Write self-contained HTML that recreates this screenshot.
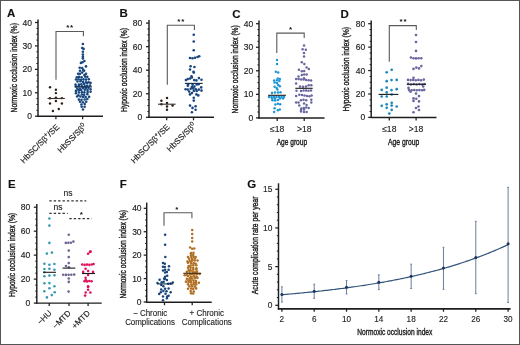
<!DOCTYPE html>
<html><head><meta charset="utf-8"><style>
html,body{margin:0;padding:0;background:#fff;}
.wrap{position:relative;width:520px;height:345px;overflow:hidden;background:#fff;}
svg{display:block;font-family:"Liberation Sans", sans-serif;filter:blur(0.3px);}
.bd{position:absolute;left:0;top:0;width:520px;height:345px;box-sizing:border-box;border:1px solid #555;}
</style></head><body>
<div class="wrap">
<svg width="520" height="345" viewBox="0 0 520 345">
<rect x="0" y="0" width="520" height="345" fill="#fff"/>
<text x="7.00" y="16.70" font-size="11.5" text-anchor="start" fill="#111" font-weight="bold" stroke="#1c1c1c" stroke-width="0.12">A</text>
<line x1="38.00" y1="19.60" x2="38.00" y2="116.90" stroke="#1e1e1e" stroke-width="1.45" />
<line x1="35.00" y1="116.20" x2="38.00" y2="116.20" stroke="#1e1e1e" stroke-width="1.25" />
<text x="31.90" y="119.25" font-size="8.5" text-anchor="end" fill="#1c1c1c" font-weight="normal" stroke="#1c1c1c" stroke-width="0.15">0</text>
<line x1="35.00" y1="92.78" x2="38.00" y2="92.78" stroke="#1e1e1e" stroke-width="1.25" />
<text x="31.90" y="95.83" font-size="8.5" text-anchor="end" fill="#1c1c1c" font-weight="normal" stroke="#1c1c1c" stroke-width="0.15">10</text>
<line x1="35.00" y1="69.35" x2="38.00" y2="69.35" stroke="#1e1e1e" stroke-width="1.25" />
<text x="31.90" y="72.40" font-size="8.5" text-anchor="end" fill="#1c1c1c" font-weight="normal" stroke="#1c1c1c" stroke-width="0.15">20</text>
<line x1="35.00" y1="45.92" x2="38.00" y2="45.92" stroke="#1e1e1e" stroke-width="1.25" />
<text x="31.90" y="48.97" font-size="8.5" text-anchor="end" fill="#1c1c1c" font-weight="normal" stroke="#1c1c1c" stroke-width="0.15">30</text>
<line x1="35.00" y1="22.50" x2="38.00" y2="22.50" stroke="#1e1e1e" stroke-width="1.25" />
<text x="31.90" y="25.55" font-size="8.5" text-anchor="end" fill="#1c1c1c" font-weight="normal" stroke="#1c1c1c" stroke-width="0.15">40</text>
<line x1="36.40" y1="110.34" x2="38.00" y2="110.34" stroke="#1e1e1e" stroke-width="1.0" />
<line x1="36.40" y1="104.49" x2="38.00" y2="104.49" stroke="#1e1e1e" stroke-width="1.0" />
<line x1="36.40" y1="98.63" x2="38.00" y2="98.63" stroke="#1e1e1e" stroke-width="1.0" />
<line x1="36.40" y1="86.92" x2="38.00" y2="86.92" stroke="#1e1e1e" stroke-width="1.0" />
<line x1="36.40" y1="81.06" x2="38.00" y2="81.06" stroke="#1e1e1e" stroke-width="1.0" />
<line x1="36.40" y1="75.21" x2="38.00" y2="75.21" stroke="#1e1e1e" stroke-width="1.0" />
<line x1="36.40" y1="63.49" x2="38.00" y2="63.49" stroke="#1e1e1e" stroke-width="1.0" />
<line x1="36.40" y1="57.64" x2="38.00" y2="57.64" stroke="#1e1e1e" stroke-width="1.0" />
<line x1="36.40" y1="51.78" x2="38.00" y2="51.78" stroke="#1e1e1e" stroke-width="1.0" />
<line x1="36.40" y1="40.07" x2="38.00" y2="40.07" stroke="#1e1e1e" stroke-width="1.0" />
<line x1="36.40" y1="34.21" x2="38.00" y2="34.21" stroke="#1e1e1e" stroke-width="1.0" />
<line x1="36.40" y1="28.36" x2="38.00" y2="28.36" stroke="#1e1e1e" stroke-width="1.0" />
<line x1="37.30" y1="116.20" x2="103.00" y2="116.20" stroke="#1e1e1e" stroke-width="1.45" />
<line x1="55.90" y1="116.20" x2="55.90" y2="119.20" stroke="#1e1e1e" stroke-width="1.25" />
<line x1="82.60" y1="116.20" x2="82.60" y2="119.20" stroke="#1e1e1e" stroke-width="1.25" />
<text transform="translate(16.70,112.50) rotate(-90)" x="0" y="0" font-size="9.0" fill="#1c1c1c" stroke="#1c1c1c" stroke-width="0.4" textLength="89.4" lengthAdjust="spacingAndGlyphs">Normoxic occlusion index (%)</text>
<path d="M56.00,79.80 V31.50 H83.40 V36.30" fill="none" stroke="#5a5a5a" stroke-width="1.1"/>
<text x="67.75" y="30.04" font-size="8.0" font-weight="bold" text-anchor="middle" fill="#111">*</text>
<text x="71.65" y="30.04" font-size="8.0" font-weight="bold" text-anchor="middle" fill="#111">*</text>
<circle cx="50.00" cy="87.25" r="1.2" fill="#2c1e16"/>
<circle cx="55.90" cy="89.75" r="1.2" fill="#2c1e16"/>
<circle cx="55.90" cy="93.10" r="1.2" fill="#2c1e16"/>
<circle cx="50.00" cy="98.30" r="1.2" fill="#2c1e16"/>
<circle cx="55.90" cy="97.60" r="1.2" fill="#2c1e16"/>
<circle cx="61.90" cy="98.10" r="1.2" fill="#2c1e16"/>
<circle cx="55.90" cy="101.00" r="1.2" fill="#2c1e16"/>
<circle cx="50.00" cy="103.50" r="1.2" fill="#2c1e16"/>
<circle cx="61.90" cy="103.50" r="1.2" fill="#2c1e16"/>
<circle cx="58.75" cy="109.00" r="1.2" fill="#2c1e16"/>
<circle cx="52.90" cy="111.00" r="1.2" fill="#2c1e16"/>
<line x1="47.50" y1="98.50" x2="64.80" y2="98.50" stroke="#3a3430" stroke-width="1.1" />
<circle cx="82.90" cy="44.00" r="1.3" fill="#18467e"/>
<circle cx="82.20" cy="48.00" r="1.3" fill="#18467e"/>
<circle cx="83.60" cy="48.90" r="1.3" fill="#18467e"/>
<circle cx="82.90" cy="51.80" r="1.3" fill="#18467e"/>
<circle cx="82.90" cy="54.60" r="1.3" fill="#18467e"/>
<circle cx="82.90" cy="56.70" r="1.3" fill="#18467e"/>
<circle cx="82.90" cy="58.40" r="1.3" fill="#18467e"/>
<circle cx="84.40" cy="61.00" r="1.3" fill="#18467e"/>
<circle cx="82.50" cy="62.20" r="1.3" fill="#18467e"/>
<circle cx="80.90" cy="62.90" r="1.3" fill="#18467e"/>
<circle cx="79.70" cy="67.70" r="1.3" fill="#18467e"/>
<circle cx="82.20" cy="68.00" r="1.3" fill="#18467e"/>
<circle cx="86.00" cy="66.40" r="1.3" fill="#18467e"/>
<circle cx="80.00" cy="70.80" r="1.3" fill="#18467e"/>
<circle cx="83.20" cy="69.90" r="1.3" fill="#18467e"/>
<circle cx="84.10" cy="70.80" r="1.3" fill="#18467e"/>
<circle cx="78.10" cy="73.70" r="1.3" fill="#18467e"/>
<circle cx="80.00" cy="73.70" r="1.3" fill="#18467e"/>
<circle cx="84.40" cy="75.00" r="1.3" fill="#18467e"/>
<circle cx="86.00" cy="73.70" r="1.3" fill="#18467e"/>
<circle cx="82.20" cy="72.60" r="1.3" fill="#18467e"/>
<circle cx="76.80" cy="77.20" r="1.3" fill="#18467e"/>
<circle cx="79.00" cy="76.90" r="1.3" fill="#18467e"/>
<circle cx="81.60" cy="77.20" r="1.3" fill="#18467e"/>
<circle cx="85.10" cy="76.60" r="1.3" fill="#18467e"/>
<circle cx="87.30" cy="76.90" r="1.3" fill="#18467e"/>
<circle cx="76.00" cy="79.50" r="1.3" fill="#18467e"/>
<circle cx="78.50" cy="79.20" r="1.3" fill="#18467e"/>
<circle cx="81.00" cy="79.80" r="1.3" fill="#18467e"/>
<circle cx="83.50" cy="79.40" r="1.3" fill="#18467e"/>
<circle cx="86.00" cy="79.60" r="1.3" fill="#18467e"/>
<circle cx="88.80" cy="79.20" r="1.3" fill="#18467e"/>
<circle cx="77.51" cy="81.56" r="1.3" fill="#18467e"/>
<circle cx="80.40" cy="81.26" r="1.3" fill="#18467e"/>
<circle cx="82.98" cy="82.11" r="1.3" fill="#18467e"/>
<circle cx="86.00" cy="82.29" r="1.3" fill="#18467e"/>
<circle cx="88.53" cy="82.19" r="1.3" fill="#18467e"/>
<circle cx="75.55" cy="84.66" r="1.3" fill="#18467e"/>
<circle cx="78.94" cy="84.67" r="1.3" fill="#18467e"/>
<circle cx="81.31" cy="84.35" r="1.3" fill="#18467e"/>
<circle cx="84.20" cy="83.88" r="1.3" fill="#18467e"/>
<circle cx="87.09" cy="83.11" r="1.3" fill="#18467e"/>
<circle cx="90.51" cy="82.92" r="1.3" fill="#18467e"/>
<circle cx="76.07" cy="86.51" r="1.3" fill="#18467e"/>
<circle cx="78.77" cy="86.13" r="1.3" fill="#18467e"/>
<circle cx="81.86" cy="86.33" r="1.3" fill="#18467e"/>
<circle cx="84.78" cy="86.32" r="1.3" fill="#18467e"/>
<circle cx="87.21" cy="85.80" r="1.3" fill="#18467e"/>
<circle cx="90.02" cy="85.51" r="1.3" fill="#18467e"/>
<circle cx="77.32" cy="88.74" r="1.3" fill="#18467e"/>
<circle cx="79.97" cy="88.73" r="1.3" fill="#18467e"/>
<circle cx="82.99" cy="88.04" r="1.3" fill="#18467e"/>
<circle cx="85.89" cy="87.96" r="1.3" fill="#18467e"/>
<circle cx="88.49" cy="87.81" r="1.3" fill="#18467e"/>
<circle cx="75.95" cy="90.92" r="1.3" fill="#18467e"/>
<circle cx="78.70" cy="90.34" r="1.3" fill="#18467e"/>
<circle cx="81.23" cy="90.12" r="1.3" fill="#18467e"/>
<circle cx="84.77" cy="89.80" r="1.3" fill="#18467e"/>
<circle cx="87.53" cy="89.98" r="1.3" fill="#18467e"/>
<circle cx="90.56" cy="89.23" r="1.3" fill="#18467e"/>
<circle cx="75.92" cy="93.32" r="1.3" fill="#18467e"/>
<circle cx="78.90" cy="92.51" r="1.3" fill="#18467e"/>
<circle cx="81.86" cy="92.28" r="1.3" fill="#18467e"/>
<circle cx="84.34" cy="92.37" r="1.3" fill="#18467e"/>
<circle cx="87.64" cy="91.90" r="1.3" fill="#18467e"/>
<circle cx="90.55" cy="91.78" r="1.3" fill="#18467e"/>
<circle cx="78.40" cy="95.22" r="1.3" fill="#18467e"/>
<circle cx="81.90" cy="94.55" r="1.3" fill="#18467e"/>
<circle cx="84.13" cy="94.84" r="1.3" fill="#18467e"/>
<circle cx="87.37" cy="94.14" r="1.3" fill="#18467e"/>
<circle cx="77.15" cy="96.56" r="1.3" fill="#18467e"/>
<circle cx="80.39" cy="96.51" r="1.3" fill="#18467e"/>
<circle cx="83.00" cy="97.04" r="1.3" fill="#18467e"/>
<circle cx="85.64" cy="96.94" r="1.3" fill="#18467e"/>
<circle cx="89.11" cy="96.84" r="1.3" fill="#18467e"/>
<circle cx="78.89" cy="99.58" r="1.3" fill="#18467e"/>
<circle cx="81.52" cy="99.83" r="1.3" fill="#18467e"/>
<circle cx="84.70" cy="99.57" r="1.3" fill="#18467e"/>
<circle cx="87.32" cy="98.99" r="1.3" fill="#18467e"/>
<circle cx="80.03" cy="101.77" r="1.3" fill="#18467e"/>
<circle cx="82.91" cy="102.21" r="1.3" fill="#18467e"/>
<circle cx="86.22" cy="101.82" r="1.3" fill="#18467e"/>
<circle cx="81.39" cy="104.56" r="1.3" fill="#18467e"/>
<circle cx="84.71" cy="103.98" r="1.3" fill="#18467e"/>
<circle cx="81.69" cy="106.79" r="1.3" fill="#18467e"/>
<circle cx="84.63" cy="106.77" r="1.3" fill="#18467e"/>
<circle cx="82.99" cy="109.46" r="1.3" fill="#18467e"/>
<line x1="74.50" y1="86.90" x2="92.00" y2="86.90" stroke="#102a48" stroke-width="1.1" />
<text transform="translate(59.80,127.60) rotate(-45)" x="0" y="0" font-size="8.2" fill="#1c1c1c" stroke="#1c1c1c" stroke-width="0.15" text-anchor="end">HbSC/S&#946;<tspan dy="-3" font-size="6">+</tspan><tspan dy="3">/SE</tspan></text>
<text transform="translate(87.00,127.00) rotate(-45)" x="0" y="0" font-size="8.2" fill="#1c1c1c" stroke="#1c1c1c" stroke-width="0.15" text-anchor="end">HbSS/S&#946;<tspan dy="-3" font-size="6">0</tspan></text>
<text x="119.60" y="16.80" font-size="11.5" text-anchor="start" fill="#111" font-weight="bold" stroke="#1c1c1c" stroke-width="0.12">B</text>
<line x1="149.00" y1="20.00" x2="149.00" y2="118.00" stroke="#1e1e1e" stroke-width="1.45" />
<line x1="146.00" y1="117.30" x2="149.00" y2="117.30" stroke="#1e1e1e" stroke-width="1.25" />
<text x="142.30" y="120.35" font-size="8.5" text-anchor="end" fill="#1c1c1c" font-weight="normal" stroke="#1c1c1c" stroke-width="0.15">0</text>
<line x1="146.00" y1="93.75" x2="149.00" y2="93.75" stroke="#1e1e1e" stroke-width="1.25" />
<text x="142.30" y="96.80" font-size="8.5" text-anchor="end" fill="#1c1c1c" font-weight="normal" stroke="#1c1c1c" stroke-width="0.15">20</text>
<line x1="146.00" y1="70.20" x2="149.00" y2="70.20" stroke="#1e1e1e" stroke-width="1.25" />
<text x="142.30" y="73.25" font-size="8.5" text-anchor="end" fill="#1c1c1c" font-weight="normal" stroke="#1c1c1c" stroke-width="0.15">40</text>
<line x1="146.00" y1="46.65" x2="149.00" y2="46.65" stroke="#1e1e1e" stroke-width="1.25" />
<text x="142.30" y="49.70" font-size="8.5" text-anchor="end" fill="#1c1c1c" font-weight="normal" stroke="#1c1c1c" stroke-width="0.15">60</text>
<line x1="146.00" y1="23.10" x2="149.00" y2="23.10" stroke="#1e1e1e" stroke-width="1.25" />
<text x="142.30" y="26.15" font-size="8.5" text-anchor="end" fill="#1c1c1c" font-weight="normal" stroke="#1c1c1c" stroke-width="0.15">80</text>
<line x1="147.40" y1="111.41" x2="149.00" y2="111.41" stroke="#1e1e1e" stroke-width="1.0" />
<line x1="147.40" y1="105.53" x2="149.00" y2="105.53" stroke="#1e1e1e" stroke-width="1.0" />
<line x1="147.40" y1="99.64" x2="149.00" y2="99.64" stroke="#1e1e1e" stroke-width="1.0" />
<line x1="147.40" y1="87.86" x2="149.00" y2="87.86" stroke="#1e1e1e" stroke-width="1.0" />
<line x1="147.40" y1="81.97" x2="149.00" y2="81.97" stroke="#1e1e1e" stroke-width="1.0" />
<line x1="147.40" y1="76.09" x2="149.00" y2="76.09" stroke="#1e1e1e" stroke-width="1.0" />
<line x1="147.40" y1="64.31" x2="149.00" y2="64.31" stroke="#1e1e1e" stroke-width="1.0" />
<line x1="147.40" y1="58.43" x2="149.00" y2="58.43" stroke="#1e1e1e" stroke-width="1.0" />
<line x1="147.40" y1="52.54" x2="149.00" y2="52.54" stroke="#1e1e1e" stroke-width="1.0" />
<line x1="147.40" y1="40.76" x2="149.00" y2="40.76" stroke="#1e1e1e" stroke-width="1.0" />
<line x1="147.40" y1="34.88" x2="149.00" y2="34.88" stroke="#1e1e1e" stroke-width="1.0" />
<line x1="147.40" y1="28.99" x2="149.00" y2="28.99" stroke="#1e1e1e" stroke-width="1.0" />
<line x1="148.30" y1="117.30" x2="214.00" y2="117.30" stroke="#1e1e1e" stroke-width="1.45" />
<line x1="166.70" y1="117.30" x2="166.70" y2="120.30" stroke="#1e1e1e" stroke-width="1.25" />
<line x1="193.50" y1="117.30" x2="193.50" y2="120.30" stroke="#1e1e1e" stroke-width="1.25" />
<text transform="translate(126.80,111.90) rotate(-90)" x="0" y="0" font-size="9.0" fill="#1c1c1c" stroke="#1c1c1c" stroke-width="0.4" textLength="83.8" lengthAdjust="spacingAndGlyphs">Hypoxic occlusion index (%)</text>
<path d="M167.30,84.80 V25.30 H194.40 V30.00" fill="none" stroke="#5a5a5a" stroke-width="1.1"/>
<text x="178.90" y="23.64" font-size="8.0" font-weight="bold" text-anchor="middle" fill="#111">*</text>
<text x="182.80" y="23.64" font-size="8.0" font-weight="bold" text-anchor="middle" fill="#111">*</text>
<circle cx="167.00" cy="98.10" r="1.25" fill="#2c1e16"/>
<circle cx="161.40" cy="100.70" r="1.25" fill="#2c1e16"/>
<circle cx="167.00" cy="103.00" r="1.25" fill="#2c1e16"/>
<circle cx="161.40" cy="104.30" r="1.25" fill="#2c1e16"/>
<circle cx="172.60" cy="105.60" r="1.25" fill="#2c1e16"/>
<circle cx="167.00" cy="106.60" r="1.25" fill="#2c1e16"/>
<circle cx="167.00" cy="109.70" r="1.25" fill="#2c1e16"/>
<line x1="158.00" y1="104.20" x2="175.60" y2="104.20" stroke="#3a3430" stroke-width="1.1" />
<circle cx="193.75" cy="34.75" r="1.3" fill="#18467e"/>
<circle cx="193.75" cy="41.50" r="1.3" fill="#18467e"/>
<circle cx="193.75" cy="50.25" r="1.3" fill="#18467e"/>
<circle cx="190.00" cy="58.00" r="1.3" fill="#18467e"/>
<circle cx="192.50" cy="58.20" r="1.3" fill="#18467e"/>
<circle cx="195.00" cy="57.80" r="1.3" fill="#18467e"/>
<circle cx="197.50" cy="57.00" r="1.3" fill="#18467e"/>
<circle cx="199.20" cy="56.20" r="1.3" fill="#18467e"/>
<circle cx="190.60" cy="66.30" r="1.3" fill="#18467e"/>
<circle cx="194.40" cy="67.00" r="1.3" fill="#18467e"/>
<circle cx="190.00" cy="69.50" r="1.3" fill="#18467e"/>
<circle cx="193.50" cy="71.80" r="1.3" fill="#18467e"/>
<circle cx="193.80" cy="72.60" r="1.3" fill="#18467e"/>
<circle cx="193.75" cy="97.80" r="1.3" fill="#18467e"/>
<circle cx="193.75" cy="100.60" r="1.3" fill="#18467e"/>
<circle cx="190.00" cy="105.60" r="1.3" fill="#18467e"/>
<circle cx="195.60" cy="106.25" r="1.3" fill="#18467e"/>
<circle cx="192.50" cy="107.90" r="1.3" fill="#18467e"/>
<circle cx="195.60" cy="109.75" r="1.3" fill="#18467e"/>
<circle cx="191.90" cy="112.25" r="1.3" fill="#18467e"/>
<circle cx="185.90" cy="80.10" r="1.3" fill="#18467e"/>
<circle cx="187.80" cy="79.10" r="1.3" fill="#18467e"/>
<circle cx="190.00" cy="78.50" r="1.3" fill="#18467e"/>
<circle cx="191.90" cy="77.50" r="1.3" fill="#18467e"/>
<circle cx="194.20" cy="80.10" r="1.3" fill="#18467e"/>
<circle cx="196.40" cy="80.40" r="1.3" fill="#18467e"/>
<circle cx="198.90" cy="78.10" r="1.3" fill="#18467e"/>
<circle cx="201.50" cy="79.70" r="1.3" fill="#18467e"/>
<circle cx="188.10" cy="84.50" r="1.3" fill="#18467e"/>
<circle cx="192.60" cy="84.80" r="1.3" fill="#18467e"/>
<circle cx="196.70" cy="84.50" r="1.3" fill="#18467e"/>
<circle cx="198.60" cy="84.20" r="1.3" fill="#18467e"/>
<circle cx="187.80" cy="85.80" r="1.3" fill="#18467e"/>
<circle cx="191.90" cy="87.10" r="1.3" fill="#18467e"/>
<circle cx="201.20" cy="87.40" r="1.3" fill="#18467e"/>
<circle cx="194.40" cy="86.60" r="1.3" fill="#18467e"/>
<circle cx="185.60" cy="89.30" r="1.3" fill="#18467e"/>
<circle cx="187.80" cy="89.60" r="1.3" fill="#18467e"/>
<circle cx="190.70" cy="88.70" r="1.3" fill="#18467e"/>
<circle cx="193.20" cy="88.40" r="1.3" fill="#18467e"/>
<circle cx="195.80" cy="89.30" r="1.3" fill="#18467e"/>
<circle cx="198.90" cy="89.60" r="1.3" fill="#18467e"/>
<circle cx="201.50" cy="90.60" r="1.3" fill="#18467e"/>
<circle cx="193.80" cy="90.90" r="1.3" fill="#18467e"/>
<circle cx="196.70" cy="90.90" r="1.3" fill="#18467e"/>
<circle cx="189.20" cy="91.60" r="1.3" fill="#18467e"/>
<circle cx="190.00" cy="94.40" r="1.3" fill="#18467e"/>
<circle cx="191.90" cy="93.10" r="1.3" fill="#18467e"/>
<circle cx="196.40" cy="94.40" r="1.3" fill="#18467e"/>
<circle cx="198.30" cy="95.40" r="1.3" fill="#18467e"/>
<circle cx="191.50" cy="76.40" r="1.3" fill="#18467e"/>
<line x1="184.90" y1="83.40" x2="202.70" y2="83.40" stroke="#102a48" stroke-width="1.1" />
<text transform="translate(170.20,127.60) rotate(-45)" x="0" y="0" font-size="8.2" fill="#1c1c1c" stroke="#1c1c1c" stroke-width="0.15" text-anchor="end">HbSC/S&#946;<tspan dy="-3" font-size="6">+</tspan><tspan dy="3">/SE</tspan></text>
<text transform="translate(196.40,126.00) rotate(-45)" x="0" y="0" font-size="8.2" fill="#1c1c1c" stroke="#1c1c1c" stroke-width="0.15" text-anchor="end">HbSS/S&#946;<tspan dy="-3" font-size="6">0</tspan></text>
<text x="232.30" y="18.20" font-size="11.5" text-anchor="start" fill="#111" font-weight="bold" stroke="#1c1c1c" stroke-width="0.12">C</text>
<line x1="259.00" y1="20.60" x2="259.00" y2="118.60" stroke="#1e1e1e" stroke-width="1.45" />
<line x1="256.00" y1="117.90" x2="259.00" y2="117.90" stroke="#1e1e1e" stroke-width="1.25" />
<text x="253.20" y="120.95" font-size="8.5" text-anchor="end" fill="#1c1c1c" font-weight="normal" stroke="#1c1c1c" stroke-width="0.15">0</text>
<line x1="256.00" y1="94.35" x2="259.00" y2="94.35" stroke="#1e1e1e" stroke-width="1.25" />
<text x="253.20" y="97.40" font-size="8.5" text-anchor="end" fill="#1c1c1c" font-weight="normal" stroke="#1c1c1c" stroke-width="0.15">10</text>
<line x1="256.00" y1="70.80" x2="259.00" y2="70.80" stroke="#1e1e1e" stroke-width="1.25" />
<text x="253.20" y="73.85" font-size="8.5" text-anchor="end" fill="#1c1c1c" font-weight="normal" stroke="#1c1c1c" stroke-width="0.15">20</text>
<line x1="256.00" y1="47.25" x2="259.00" y2="47.25" stroke="#1e1e1e" stroke-width="1.25" />
<text x="253.20" y="50.30" font-size="8.5" text-anchor="end" fill="#1c1c1c" font-weight="normal" stroke="#1c1c1c" stroke-width="0.15">30</text>
<line x1="256.00" y1="23.70" x2="259.00" y2="23.70" stroke="#1e1e1e" stroke-width="1.25" />
<text x="253.20" y="26.75" font-size="8.5" text-anchor="end" fill="#1c1c1c" font-weight="normal" stroke="#1c1c1c" stroke-width="0.15">40</text>
<line x1="257.40" y1="112.01" x2="259.00" y2="112.01" stroke="#1e1e1e" stroke-width="1.0" />
<line x1="257.40" y1="106.12" x2="259.00" y2="106.12" stroke="#1e1e1e" stroke-width="1.0" />
<line x1="257.40" y1="100.24" x2="259.00" y2="100.24" stroke="#1e1e1e" stroke-width="1.0" />
<line x1="257.40" y1="88.46" x2="259.00" y2="88.46" stroke="#1e1e1e" stroke-width="1.0" />
<line x1="257.40" y1="82.58" x2="259.00" y2="82.58" stroke="#1e1e1e" stroke-width="1.0" />
<line x1="257.40" y1="76.69" x2="259.00" y2="76.69" stroke="#1e1e1e" stroke-width="1.0" />
<line x1="257.40" y1="64.91" x2="259.00" y2="64.91" stroke="#1e1e1e" stroke-width="1.0" />
<line x1="257.40" y1="59.03" x2="259.00" y2="59.03" stroke="#1e1e1e" stroke-width="1.0" />
<line x1="257.40" y1="53.14" x2="259.00" y2="53.14" stroke="#1e1e1e" stroke-width="1.0" />
<line x1="257.40" y1="41.36" x2="259.00" y2="41.36" stroke="#1e1e1e" stroke-width="1.0" />
<line x1="257.40" y1="35.48" x2="259.00" y2="35.48" stroke="#1e1e1e" stroke-width="1.0" />
<line x1="257.40" y1="29.59" x2="259.00" y2="29.59" stroke="#1e1e1e" stroke-width="1.0" />
<line x1="258.30" y1="117.90" x2="324.50" y2="117.90" stroke="#1e1e1e" stroke-width="1.45" />
<line x1="277.20" y1="117.90" x2="277.20" y2="120.90" stroke="#1e1e1e" stroke-width="1.25" />
<line x1="304.20" y1="117.90" x2="304.20" y2="120.90" stroke="#1e1e1e" stroke-width="1.25" />
<text transform="translate(238.30,113.40) rotate(-90)" x="0" y="0" font-size="9.0" fill="#1c1c1c" stroke="#1c1c1c" stroke-width="0.4" textLength="88.2" lengthAdjust="spacingAndGlyphs">Normoxic occlusion index (%)</text>
<path d="M276.80,52.90 V33.10 H304.20 V38.00" fill="none" stroke="#5a5a5a" stroke-width="1.1"/>
<text x="290.60" y="31.54" font-size="8.0" font-weight="bold" text-anchor="middle" fill="#111">*</text>
<circle cx="277.00" cy="59.90" r="1.25" fill="#1e96d6"/>
<circle cx="277.00" cy="64.00" r="1.25" fill="#1e96d6"/>
<circle cx="275.80" cy="71.70" r="1.25" fill="#1e96d6"/>
<circle cx="278.20" cy="72.50" r="1.25" fill="#1e96d6"/>
<circle cx="277.80" cy="78.40" r="1.25" fill="#1e96d6"/>
<circle cx="279.80" cy="79.00" r="1.25" fill="#1e96d6"/>
<circle cx="274.10" cy="80.60" r="1.25" fill="#1e96d6"/>
<circle cx="277.00" cy="80.20" r="1.25" fill="#1e96d6"/>
<circle cx="279.40" cy="81.00" r="1.25" fill="#1e96d6"/>
<circle cx="274.60" cy="82.60" r="1.25" fill="#1e96d6"/>
<circle cx="277.00" cy="83.00" r="1.25" fill="#1e96d6"/>
<circle cx="278.20" cy="85.00" r="1.25" fill="#1e96d6"/>
<circle cx="279.80" cy="86.30" r="1.25" fill="#1e96d6"/>
<circle cx="274.60" cy="86.70" r="1.25" fill="#1e96d6"/>
<circle cx="276.60" cy="87.90" r="1.25" fill="#1e96d6"/>
<circle cx="277.40" cy="89.50" r="1.25" fill="#1e96d6"/>
<circle cx="272.00" cy="93.00" r="1.25" fill="#1e96d6"/>
<circle cx="275.00" cy="92.50" r="1.25" fill="#1e96d6"/>
<circle cx="278.00" cy="92.50" r="1.25" fill="#1e96d6"/>
<circle cx="280.50" cy="92.20" r="1.25" fill="#1e96d6"/>
<circle cx="269.00" cy="96.90" r="1.25" fill="#1e96d6"/>
<circle cx="271.50" cy="96.90" r="1.25" fill="#1e96d6"/>
<circle cx="274.00" cy="96.90" r="1.25" fill="#1e96d6"/>
<circle cx="276.50" cy="96.90" r="1.25" fill="#1e96d6"/>
<circle cx="279.00" cy="96.90" r="1.25" fill="#1e96d6"/>
<circle cx="281.50" cy="96.90" r="1.25" fill="#1e96d6"/>
<circle cx="284.00" cy="96.90" r="1.25" fill="#1e96d6"/>
<circle cx="272.00" cy="98.60" r="1.25" fill="#1e96d6"/>
<circle cx="275.00" cy="98.80" r="1.25" fill="#1e96d6"/>
<circle cx="280.00" cy="98.60" r="1.25" fill="#1e96d6"/>
<circle cx="283.00" cy="98.40" r="1.25" fill="#1e96d6"/>
<circle cx="272.50" cy="100.30" r="1.25" fill="#1e96d6"/>
<circle cx="275.20" cy="100.50" r="1.25" fill="#1e96d6"/>
<circle cx="278.00" cy="100.10" r="1.25" fill="#1e96d6"/>
<circle cx="275.40" cy="104.60" r="1.25" fill="#1e96d6"/>
<circle cx="277.80" cy="103.80" r="1.25" fill="#1e96d6"/>
<circle cx="280.20" cy="104.20" r="1.25" fill="#1e96d6"/>
<circle cx="274.60" cy="108.30" r="1.25" fill="#1e96d6"/>
<circle cx="277.80" cy="110.30" r="1.25" fill="#1e96d6"/>
<circle cx="279.80" cy="109.50" r="1.25" fill="#1e96d6"/>
<circle cx="274.10" cy="111.90" r="1.25" fill="#1e96d6"/>
<line x1="268.10" y1="95.30" x2="285.90" y2="95.30" stroke="#1a1a1a" stroke-width="1.1" />
<circle cx="304.00" cy="45.50" r="1.25" fill="#6a66a0"/>
<circle cx="302.60" cy="49.30" r="1.25" fill="#6a66a0"/>
<circle cx="305.80" cy="49.70" r="1.25" fill="#6a66a0"/>
<circle cx="304.00" cy="53.00" r="1.25" fill="#6a66a0"/>
<circle cx="304.00" cy="56.60" r="1.25" fill="#6a66a0"/>
<circle cx="301.80" cy="62.30" r="1.25" fill="#6a66a0"/>
<circle cx="304.40" cy="63.90" r="1.25" fill="#6a66a0"/>
<circle cx="306.60" cy="67.50" r="1.25" fill="#6a66a0"/>
<circle cx="308.80" cy="68.90" r="1.25" fill="#6a66a0"/>
<circle cx="298.90" cy="69.70" r="1.25" fill="#6a66a0"/>
<circle cx="301.80" cy="71.30" r="1.25" fill="#6a66a0"/>
<circle cx="304.20" cy="70.90" r="1.25" fill="#6a66a0"/>
<circle cx="301.80" cy="75.00" r="1.25" fill="#6a66a0"/>
<circle cx="304.20" cy="74.60" r="1.25" fill="#6a66a0"/>
<circle cx="306.60" cy="74.60" r="1.25" fill="#6a66a0"/>
<circle cx="298.50" cy="76.60" r="1.25" fill="#6a66a0"/>
<circle cx="304.00" cy="78.20" r="1.25" fill="#6a66a0"/>
<circle cx="296.10" cy="78.90" r="1.25" fill="#6a66a0"/>
<circle cx="298.60" cy="79.10" r="1.25" fill="#6a66a0"/>
<circle cx="301.10" cy="79.40" r="1.25" fill="#6a66a0"/>
<circle cx="303.60" cy="79.60" r="1.25" fill="#6a66a0"/>
<circle cx="306.10" cy="79.90" r="1.25" fill="#6a66a0"/>
<circle cx="308.60" cy="80.20" r="1.25" fill="#6a66a0"/>
<circle cx="311.10" cy="80.50" r="1.25" fill="#6a66a0"/>
<circle cx="296.10" cy="83.50" r="1.25" fill="#6a66a0"/>
<circle cx="308.70" cy="85.30" r="1.25" fill="#6a66a0"/>
<circle cx="311.30" cy="85.30" r="1.25" fill="#6a66a0"/>
<circle cx="300.00" cy="86.50" r="1.25" fill="#6a66a0"/>
<circle cx="303.00" cy="86.80" r="1.25" fill="#6a66a0"/>
<circle cx="306.00" cy="86.60" r="1.25" fill="#6a66a0"/>
<circle cx="296.50" cy="90.80" r="1.25" fill="#6a66a0"/>
<circle cx="301.00" cy="91.00" r="1.25" fill="#6a66a0"/>
<circle cx="303.50" cy="90.60" r="1.25" fill="#6a66a0"/>
<circle cx="306.00" cy="90.40" r="1.25" fill="#6a66a0"/>
<circle cx="308.50" cy="90.80" r="1.25" fill="#6a66a0"/>
<circle cx="311.00" cy="90.40" r="1.25" fill="#6a66a0"/>
<circle cx="296.10" cy="96.00" r="1.25" fill="#6a66a0"/>
<circle cx="299.30" cy="94.70" r="1.25" fill="#6a66a0"/>
<circle cx="302.00" cy="95.10" r="1.25" fill="#6a66a0"/>
<circle cx="304.50" cy="95.50" r="1.25" fill="#6a66a0"/>
<circle cx="307.00" cy="95.90" r="1.25" fill="#6a66a0"/>
<circle cx="309.50" cy="96.30" r="1.25" fill="#6a66a0"/>
<circle cx="311.60" cy="95.50" r="1.25" fill="#6a66a0"/>
<circle cx="301.00" cy="100.20" r="1.25" fill="#6a66a0"/>
<circle cx="303.50" cy="99.80" r="1.25" fill="#6a66a0"/>
<circle cx="306.20" cy="100.20" r="1.25" fill="#6a66a0"/>
<circle cx="311.30" cy="99.80" r="1.25" fill="#6a66a0"/>
<circle cx="296.10" cy="102.60" r="1.25" fill="#6a66a0"/>
<circle cx="298.50" cy="102.60" r="1.25" fill="#6a66a0"/>
<circle cx="304.00" cy="103.40" r="1.25" fill="#6a66a0"/>
<circle cx="311.30" cy="102.60" r="1.25" fill="#6a66a0"/>
<circle cx="299.30" cy="105.50" r="1.25" fill="#6a66a0"/>
<circle cx="306.60" cy="105.00" r="1.25" fill="#6a66a0"/>
<circle cx="301.40" cy="108.50" r="1.25" fill="#6a66a0"/>
<circle cx="303.80" cy="108.00" r="1.25" fill="#6a66a0"/>
<circle cx="306.20" cy="107.50" r="1.25" fill="#6a66a0"/>
<circle cx="308.70" cy="107.90" r="1.25" fill="#6a66a0"/>
<circle cx="301.00" cy="109.90" r="1.25" fill="#6a66a0"/>
<circle cx="304.00" cy="109.50" r="1.25" fill="#6a66a0"/>
<circle cx="301.00" cy="111.60" r="1.25" fill="#6a66a0"/>
<circle cx="304.00" cy="111.90" r="1.25" fill="#6a66a0"/>
<circle cx="306.60" cy="111.90" r="1.25" fill="#6a66a0"/>
<line x1="295.30" y1="88.30" x2="312.70" y2="88.30" stroke="#1a1a1a" stroke-width="1.1" />
<text x="277.20" y="131.60" font-size="8.6" text-anchor="middle" fill="#1c1c1c" font-weight="normal" stroke="#1c1c1c" stroke-width="0.12">&#8804;18</text>
<text x="304.20" y="131.60" font-size="8.6" text-anchor="middle" fill="#1c1c1c" font-weight="normal" stroke="#1c1c1c" stroke-width="0.12">&gt;18</text>
<text x="291.90" y="144.70" font-size="9.8" text-anchor="middle" fill="#1c1c1c" font-weight="normal" textLength="30.4" lengthAdjust="spacingAndGlyphs" stroke="#1c1c1c" stroke-width="0.4">Age group</text>
<text x="340.50" y="18.10" font-size="11.5" text-anchor="start" fill="#111" font-weight="bold" stroke="#1c1c1c" stroke-width="0.12">D</text>
<line x1="371.20" y1="20.60" x2="371.20" y2="118.10" stroke="#1e1e1e" stroke-width="1.45" />
<line x1="368.20" y1="117.40" x2="371.20" y2="117.40" stroke="#1e1e1e" stroke-width="1.25" />
<text x="365.20" y="120.45" font-size="8.5" text-anchor="end" fill="#1c1c1c" font-weight="normal" stroke="#1c1c1c" stroke-width="0.15">0</text>
<line x1="368.20" y1="93.98" x2="371.20" y2="93.98" stroke="#1e1e1e" stroke-width="1.25" />
<text x="365.20" y="97.03" font-size="8.5" text-anchor="end" fill="#1c1c1c" font-weight="normal" stroke="#1c1c1c" stroke-width="0.15">20</text>
<line x1="368.20" y1="70.55" x2="371.20" y2="70.55" stroke="#1e1e1e" stroke-width="1.25" />
<text x="365.20" y="73.60" font-size="8.5" text-anchor="end" fill="#1c1c1c" font-weight="normal" stroke="#1c1c1c" stroke-width="0.15">40</text>
<line x1="368.20" y1="47.12" x2="371.20" y2="47.12" stroke="#1e1e1e" stroke-width="1.25" />
<text x="365.20" y="50.17" font-size="8.5" text-anchor="end" fill="#1c1c1c" font-weight="normal" stroke="#1c1c1c" stroke-width="0.15">60</text>
<line x1="368.20" y1="23.70" x2="371.20" y2="23.70" stroke="#1e1e1e" stroke-width="1.25" />
<text x="365.20" y="26.75" font-size="8.5" text-anchor="end" fill="#1c1c1c" font-weight="normal" stroke="#1c1c1c" stroke-width="0.15">80</text>
<line x1="369.60" y1="111.54" x2="371.20" y2="111.54" stroke="#1e1e1e" stroke-width="1.0" />
<line x1="369.60" y1="105.69" x2="371.20" y2="105.69" stroke="#1e1e1e" stroke-width="1.0" />
<line x1="369.60" y1="99.83" x2="371.20" y2="99.83" stroke="#1e1e1e" stroke-width="1.0" />
<line x1="369.60" y1="88.12" x2="371.20" y2="88.12" stroke="#1e1e1e" stroke-width="1.0" />
<line x1="369.60" y1="82.26" x2="371.20" y2="82.26" stroke="#1e1e1e" stroke-width="1.0" />
<line x1="369.60" y1="76.41" x2="371.20" y2="76.41" stroke="#1e1e1e" stroke-width="1.0" />
<line x1="369.60" y1="64.69" x2="371.20" y2="64.69" stroke="#1e1e1e" stroke-width="1.0" />
<line x1="369.60" y1="58.84" x2="371.20" y2="58.84" stroke="#1e1e1e" stroke-width="1.0" />
<line x1="369.60" y1="52.98" x2="371.20" y2="52.98" stroke="#1e1e1e" stroke-width="1.0" />
<line x1="369.60" y1="41.27" x2="371.20" y2="41.27" stroke="#1e1e1e" stroke-width="1.0" />
<line x1="369.60" y1="35.41" x2="371.20" y2="35.41" stroke="#1e1e1e" stroke-width="1.0" />
<line x1="369.60" y1="29.56" x2="371.20" y2="29.56" stroke="#1e1e1e" stroke-width="1.0" />
<line x1="370.50" y1="117.40" x2="436.50" y2="117.40" stroke="#1e1e1e" stroke-width="1.45" />
<line x1="389.30" y1="117.40" x2="389.30" y2="120.40" stroke="#1e1e1e" stroke-width="1.25" />
<line x1="416.10" y1="117.40" x2="416.10" y2="120.40" stroke="#1e1e1e" stroke-width="1.25" />
<text transform="translate(349.30,111.40) rotate(-90)" x="0" y="0" font-size="9.0" fill="#1c1c1c" stroke="#1c1c1c" stroke-width="0.4" textLength="84.4" lengthAdjust="spacingAndGlyphs">Hypoxic occlusion index (%)</text>
<path d="M389.30,61.70 V25.60 H416.30 V30.00" fill="none" stroke="#5a5a5a" stroke-width="1.1"/>
<text x="401.05" y="24.04" font-size="8.0" font-weight="bold" text-anchor="middle" fill="#111">*</text>
<text x="404.95" y="24.04" font-size="8.0" font-weight="bold" text-anchor="middle" fill="#111">*</text>
<circle cx="391.70" cy="69.80" r="1.35" fill="#1f88b8"/>
<circle cx="386.70" cy="72.30" r="1.35" fill="#1f88b8"/>
<circle cx="386.70" cy="81.20" r="1.35" fill="#1f88b8"/>
<circle cx="391.50" cy="80.10" r="1.35" fill="#1f88b8"/>
<circle cx="396.70" cy="79.90" r="1.35" fill="#1f88b8"/>
<circle cx="386.70" cy="87.70" r="1.35" fill="#1f88b8"/>
<circle cx="381.70" cy="89.90" r="1.35" fill="#1f88b8"/>
<circle cx="391.50" cy="90.10" r="1.35" fill="#1f88b8"/>
<circle cx="396.70" cy="89.20" r="1.35" fill="#1f88b8"/>
<circle cx="386.70" cy="92.40" r="1.35" fill="#1f88b8"/>
<circle cx="381.70" cy="96.50" r="1.35" fill="#1f88b8"/>
<circle cx="386.70" cy="96.50" r="1.35" fill="#1f88b8"/>
<circle cx="391.70" cy="94.50" r="1.35" fill="#1f88b8"/>
<circle cx="391.70" cy="102.80" r="1.35" fill="#1f88b8"/>
<circle cx="386.70" cy="104.30" r="1.35" fill="#1f88b8"/>
<circle cx="381.70" cy="105.80" r="1.35" fill="#1f88b8"/>
<circle cx="391.70" cy="105.60" r="1.35" fill="#1f88b8"/>
<circle cx="396.70" cy="106.50" r="1.35" fill="#1f88b8"/>
<circle cx="386.70" cy="107.80" r="1.35" fill="#1f88b8"/>
<circle cx="391.70" cy="109.90" r="1.35" fill="#1f88b8"/>
<circle cx="389.30" cy="113.60" r="1.35" fill="#1f88b8"/>
<line x1="378.60" y1="94.40" x2="398.40" y2="94.40" stroke="#1a1a1a" stroke-width="1.1" />
<circle cx="416.00" cy="35.00" r="1.3" fill="#6a66a0"/>
<circle cx="416.00" cy="42.00" r="1.3" fill="#6a66a0"/>
<circle cx="416.00" cy="50.90" r="1.3" fill="#6a66a0"/>
<circle cx="410.90" cy="57.50" r="1.3" fill="#6a66a0"/>
<circle cx="413.50" cy="58.30" r="1.3" fill="#6a66a0"/>
<circle cx="416.00" cy="58.40" r="1.3" fill="#6a66a0"/>
<circle cx="418.60" cy="58.30" r="1.3" fill="#6a66a0"/>
<circle cx="421.30" cy="58.20" r="1.3" fill="#6a66a0"/>
<circle cx="413.50" cy="68.90" r="1.3" fill="#6a66a0"/>
<circle cx="416.30" cy="67.60" r="1.3" fill="#6a66a0"/>
<circle cx="419.00" cy="68.40" r="1.3" fill="#6a66a0"/>
<circle cx="421.30" cy="66.10" r="1.3" fill="#6a66a0"/>
<circle cx="413.50" cy="77.80" r="1.3" fill="#6a66a0"/>
<circle cx="408.00" cy="79.90" r="1.3" fill="#6a66a0"/>
<circle cx="410.60" cy="80.10" r="1.3" fill="#6a66a0"/>
<circle cx="413.20" cy="79.90" r="1.3" fill="#6a66a0"/>
<circle cx="415.80" cy="80.20" r="1.3" fill="#6a66a0"/>
<circle cx="418.40" cy="79.90" r="1.3" fill="#6a66a0"/>
<circle cx="421.00" cy="80.20" r="1.3" fill="#6a66a0"/>
<circle cx="423.80" cy="79.60" r="1.3" fill="#6a66a0"/>
<circle cx="408.20" cy="83.90" r="1.3" fill="#6a66a0"/>
<circle cx="411.00" cy="84.50" r="1.3" fill="#6a66a0"/>
<circle cx="413.80" cy="84.10" r="1.3" fill="#6a66a0"/>
<circle cx="416.60" cy="84.50" r="1.3" fill="#6a66a0"/>
<circle cx="419.40" cy="84.10" r="1.3" fill="#6a66a0"/>
<circle cx="422.20" cy="84.60" r="1.3" fill="#6a66a0"/>
<circle cx="424.50" cy="84.00" r="1.3" fill="#6a66a0"/>
<circle cx="408.50" cy="87.90" r="1.3" fill="#6a66a0"/>
<circle cx="423.20" cy="86.50" r="1.3" fill="#6a66a0"/>
<circle cx="409.00" cy="90.10" r="1.3" fill="#6a66a0"/>
<circle cx="411.60" cy="90.30" r="1.3" fill="#6a66a0"/>
<circle cx="414.20" cy="90.00" r="1.3" fill="#6a66a0"/>
<circle cx="416.80" cy="90.20" r="1.3" fill="#6a66a0"/>
<circle cx="419.40" cy="90.10" r="1.3" fill="#6a66a0"/>
<circle cx="422.00" cy="90.30" r="1.3" fill="#6a66a0"/>
<circle cx="424.20" cy="89.90" r="1.3" fill="#6a66a0"/>
<circle cx="410.50" cy="91.80" r="1.3" fill="#6a66a0"/>
<circle cx="416.00" cy="93.60" r="1.3" fill="#6a66a0"/>
<circle cx="419.00" cy="96.10" r="1.3" fill="#6a66a0"/>
<circle cx="413.50" cy="98.40" r="1.3" fill="#6a66a0"/>
<circle cx="416.30" cy="98.70" r="1.3" fill="#6a66a0"/>
<circle cx="413.50" cy="100.90" r="1.3" fill="#6a66a0"/>
<circle cx="419.00" cy="101.40" r="1.3" fill="#6a66a0"/>
<circle cx="418.50" cy="106.50" r="1.3" fill="#6a66a0"/>
<circle cx="416.00" cy="108.00" r="1.3" fill="#6a66a0"/>
<circle cx="419.00" cy="110.00" r="1.3" fill="#6a66a0"/>
<circle cx="413.50" cy="112.30" r="1.3" fill="#6a66a0"/>
<line x1="406.80" y1="84.30" x2="426.00" y2="84.30" stroke="#1a1a1a" stroke-width="1.1" />
<text x="389.30" y="131.50" font-size="8.6" text-anchor="middle" fill="#1c1c1c" font-weight="normal" stroke="#1c1c1c" stroke-width="0.12">&#8804;18</text>
<text x="416.10" y="131.50" font-size="8.6" text-anchor="middle" fill="#1c1c1c" font-weight="normal" stroke="#1c1c1c" stroke-width="0.12">&gt;18</text>
<text x="403.60" y="144.60" font-size="9.8" text-anchor="middle" fill="#1c1c1c" font-weight="normal" textLength="31.2" lengthAdjust="spacingAndGlyphs" stroke="#1c1c1c" stroke-width="0.4">Age group</text>
<text x="8.00" y="188.10" font-size="11.5" text-anchor="start" fill="#111" font-weight="bold" stroke="#1c1c1c" stroke-width="0.12">E</text>
<line x1="36.80" y1="204.00" x2="36.80" y2="303.80" stroke="#1e1e1e" stroke-width="1.45" />
<line x1="33.80" y1="303.10" x2="36.80" y2="303.10" stroke="#1e1e1e" stroke-width="1.25" />
<text x="30.30" y="306.15" font-size="8.5" text-anchor="end" fill="#1c1c1c" font-weight="normal" stroke="#1c1c1c" stroke-width="0.15">0</text>
<line x1="33.80" y1="279.12" x2="36.80" y2="279.12" stroke="#1e1e1e" stroke-width="1.25" />
<text x="30.30" y="282.18" font-size="8.5" text-anchor="end" fill="#1c1c1c" font-weight="normal" stroke="#1c1c1c" stroke-width="0.15">20</text>
<line x1="33.80" y1="255.15" x2="36.80" y2="255.15" stroke="#1e1e1e" stroke-width="1.25" />
<text x="30.30" y="258.20" font-size="8.5" text-anchor="end" fill="#1c1c1c" font-weight="normal" stroke="#1c1c1c" stroke-width="0.15">40</text>
<line x1="33.80" y1="231.18" x2="36.80" y2="231.18" stroke="#1e1e1e" stroke-width="1.25" />
<text x="30.30" y="234.23" font-size="8.5" text-anchor="end" fill="#1c1c1c" font-weight="normal" stroke="#1c1c1c" stroke-width="0.15">60</text>
<line x1="33.80" y1="207.20" x2="36.80" y2="207.20" stroke="#1e1e1e" stroke-width="1.25" />
<text x="30.30" y="210.25" font-size="8.5" text-anchor="end" fill="#1c1c1c" font-weight="normal" stroke="#1c1c1c" stroke-width="0.15">80</text>
<line x1="35.20" y1="297.11" x2="36.80" y2="297.11" stroke="#1e1e1e" stroke-width="1.0" />
<line x1="35.20" y1="291.11" x2="36.80" y2="291.11" stroke="#1e1e1e" stroke-width="1.0" />
<line x1="35.20" y1="285.12" x2="36.80" y2="285.12" stroke="#1e1e1e" stroke-width="1.0" />
<line x1="35.20" y1="273.13" x2="36.80" y2="273.13" stroke="#1e1e1e" stroke-width="1.0" />
<line x1="35.20" y1="267.14" x2="36.80" y2="267.14" stroke="#1e1e1e" stroke-width="1.0" />
<line x1="35.20" y1="261.14" x2="36.80" y2="261.14" stroke="#1e1e1e" stroke-width="1.0" />
<line x1="35.20" y1="249.16" x2="36.80" y2="249.16" stroke="#1e1e1e" stroke-width="1.0" />
<line x1="35.20" y1="243.16" x2="36.80" y2="243.16" stroke="#1e1e1e" stroke-width="1.0" />
<line x1="35.20" y1="237.17" x2="36.80" y2="237.17" stroke="#1e1e1e" stroke-width="1.0" />
<line x1="35.20" y1="225.18" x2="36.80" y2="225.18" stroke="#1e1e1e" stroke-width="1.0" />
<line x1="35.20" y1="219.19" x2="36.80" y2="219.19" stroke="#1e1e1e" stroke-width="1.0" />
<line x1="35.20" y1="213.19" x2="36.80" y2="213.19" stroke="#1e1e1e" stroke-width="1.0" />
<line x1="36.10" y1="303.10" x2="101.70" y2="303.10" stroke="#1e1e1e" stroke-width="1.45" />
<line x1="49.20" y1="303.10" x2="49.20" y2="306.10" stroke="#1e1e1e" stroke-width="1.25" />
<line x1="69.00" y1="303.10" x2="69.00" y2="306.10" stroke="#1e1e1e" stroke-width="1.25" />
<line x1="88.10" y1="303.10" x2="88.10" y2="306.10" stroke="#1e1e1e" stroke-width="1.25" />
<text transform="translate(15.00,296.90) rotate(-90)" x="0" y="0" font-size="9.0" fill="#1c1c1c" stroke="#1c1c1c" stroke-width="0.4" textLength="84.0" lengthAdjust="spacingAndGlyphs">Hypoxic occlusion index (%)</text>
<line x1="49.30" y1="200.90" x2="86.30" y2="200.90" stroke="#333" stroke-width="1.1" stroke-dasharray="2.4,2"/>
<line x1="49.30" y1="213.40" x2="67.60" y2="213.40" stroke="#333" stroke-width="1.1" stroke-dasharray="2.4,2"/>
<line x1="69.30" y1="218.60" x2="91.60" y2="218.60" stroke="#333" stroke-width="1.1" stroke-dasharray="2.4,2"/>
<text x="68.00" y="195.60" font-size="8.6" text-anchor="middle" fill="#1c1c1c" font-weight="normal" stroke="#1c1c1c" stroke-width="0.12">ns</text>
<text x="58.00" y="210.00" font-size="8.6" text-anchor="middle" fill="#1c1c1c" font-weight="normal" stroke="#1c1c1c" stroke-width="0.12">ns</text>
<text x="81.30" y="216.94" font-size="8.0" font-weight="bold" text-anchor="middle" fill="#111">*</text>
<circle cx="49.40" cy="218.50" r="1.3" fill="#3a98b4"/>
<circle cx="49.40" cy="225.60" r="1.3" fill="#3a98b4"/>
<circle cx="49.40" cy="242.90" r="1.3" fill="#3a98b4"/>
<circle cx="51.90" cy="252.60" r="1.3" fill="#3a98b4"/>
<circle cx="46.90" cy="253.60" r="1.3" fill="#3a98b4"/>
<circle cx="44.40" cy="263.75" r="1.3" fill="#3a98b4"/>
<circle cx="49.40" cy="264.75" r="1.3" fill="#3a98b4"/>
<circle cx="54.40" cy="264.00" r="1.3" fill="#3a98b4"/>
<circle cx="44.40" cy="269.00" r="1.3" fill="#3a98b4"/>
<circle cx="49.40" cy="268.75" r="1.3" fill="#3a98b4"/>
<circle cx="54.40" cy="269.75" r="1.3" fill="#3a98b4"/>
<circle cx="44.40" cy="272.25" r="1.3" fill="#3a98b4"/>
<circle cx="44.40" cy="276.25" r="1.3" fill="#3a98b4"/>
<circle cx="49.40" cy="275.60" r="1.3" fill="#3a98b4"/>
<circle cx="54.40" cy="275.25" r="1.3" fill="#3a98b4"/>
<circle cx="44.40" cy="283.30" r="1.3" fill="#3a98b4"/>
<circle cx="49.40" cy="283.10" r="1.3" fill="#3a98b4"/>
<circle cx="54.40" cy="286.20" r="1.3" fill="#3a98b4"/>
<circle cx="49.40" cy="288.30" r="1.3" fill="#3a98b4"/>
<circle cx="44.30" cy="291.30" r="1.3" fill="#3a98b4"/>
<circle cx="54.70" cy="292.20" r="1.3" fill="#3a98b4"/>
<circle cx="51.80" cy="295.10" r="1.3" fill="#3a98b4"/>
<circle cx="46.90" cy="297.40" r="1.3" fill="#3a98b4"/>
<line x1="43.10" y1="272.30" x2="56.00" y2="272.30" stroke="#1a1a1a" stroke-width="1.1" />
<circle cx="68.75" cy="234.75" r="1.3" fill="#6c6896"/>
<circle cx="65.80" cy="242.90" r="1.3" fill="#6c6896"/>
<circle cx="68.30" cy="242.80" r="1.3" fill="#6c6896"/>
<circle cx="70.80" cy="242.70" r="1.3" fill="#6c6896"/>
<circle cx="73.40" cy="241.60" r="1.3" fill="#6c6896"/>
<circle cx="68.75" cy="250.60" r="1.3" fill="#6c6896"/>
<circle cx="68.75" cy="257.10" r="1.3" fill="#6c6896"/>
<circle cx="68.75" cy="263.10" r="1.3" fill="#6c6896"/>
<circle cx="66.00" cy="266.00" r="1.3" fill="#6c6896"/>
<circle cx="68.90" cy="267.20" r="1.3" fill="#6c6896"/>
<circle cx="63.20" cy="274.70" r="1.3" fill="#6c6896"/>
<circle cx="65.90" cy="274.90" r="1.3" fill="#6c6896"/>
<circle cx="68.60" cy="274.70" r="1.3" fill="#6c6896"/>
<circle cx="71.30" cy="274.80" r="1.3" fill="#6c6896"/>
<circle cx="74.20" cy="274.60" r="1.3" fill="#6c6896"/>
<circle cx="68.75" cy="278.50" r="1.3" fill="#6c6896"/>
<circle cx="68.75" cy="281.90" r="1.3" fill="#6c6896"/>
<circle cx="68.60" cy="291.60" r="1.3" fill="#6c6896"/>
<line x1="62.50" y1="268.10" x2="75.30" y2="268.10" stroke="#1a1a1a" stroke-width="1.1" />
<circle cx="90.00" cy="251.90" r="1.3" fill="#e0125e"/>
<circle cx="88.10" cy="253.75" r="1.3" fill="#e0125e"/>
<circle cx="90.60" cy="251.50" r="1.3" fill="#e0125e"/>
<circle cx="82.20" cy="264.50" r="1.3" fill="#e0125e"/>
<circle cx="84.60" cy="264.90" r="1.3" fill="#e0125e"/>
<circle cx="87.00" cy="264.60" r="1.3" fill="#e0125e"/>
<circle cx="89.40" cy="264.90" r="1.3" fill="#e0125e"/>
<circle cx="91.80" cy="264.50" r="1.3" fill="#e0125e"/>
<circle cx="93.60" cy="264.00" r="1.3" fill="#e0125e"/>
<circle cx="85.60" cy="268.75" r="1.3" fill="#e0125e"/>
<circle cx="88.10" cy="271.00" r="1.3" fill="#e0125e"/>
<circle cx="83.20" cy="271.90" r="1.3" fill="#e0125e"/>
<circle cx="93.00" cy="271.90" r="1.3" fill="#e0125e"/>
<circle cx="88.10" cy="275.00" r="1.3" fill="#e0125e"/>
<circle cx="85.60" cy="277.75" r="1.3" fill="#e0125e"/>
<circle cx="84.50" cy="281.20" r="1.3" fill="#e0125e"/>
<circle cx="86.90" cy="281.40" r="1.3" fill="#e0125e"/>
<circle cx="89.30" cy="281.00" r="1.3" fill="#e0125e"/>
<circle cx="91.60" cy="281.30" r="1.3" fill="#e0125e"/>
<circle cx="88.10" cy="286.25" r="1.3" fill="#e0125e"/>
<circle cx="85.70" cy="280.00" r="1.3" fill="#e0125e"/>
<circle cx="88.10" cy="287.00" r="1.3" fill="#e0125e"/>
<circle cx="85.70" cy="292.50" r="1.3" fill="#e0125e"/>
<circle cx="90.40" cy="292.50" r="1.3" fill="#e0125e"/>
<circle cx="85.10" cy="295.60" r="1.3" fill="#e0125e"/>
<circle cx="88.10" cy="289.80" r="1.3" fill="#e0125e"/>
<line x1="81.90" y1="273.50" x2="95.00" y2="273.50" stroke="#1a1a1a" stroke-width="1.1" />
<text transform="translate(52.20,313.60) rotate(-45)" x="0" y="0" font-size="8.2" fill="#1c1c1c" stroke="#1c1c1c" stroke-width="0.15" text-anchor="end">&#8722;HU</text>
<text transform="translate(71.40,313.60) rotate(-45)" x="0" y="0" font-size="8.0" fill="#1c1c1c" stroke="#1c1c1c" stroke-width="0.15" text-anchor="end">&#8722;MTD</text>
<text transform="translate(90.60,313.60) rotate(-45)" x="0" y="0" font-size="8.0" fill="#1c1c1c" stroke="#1c1c1c" stroke-width="0.15" text-anchor="end">+MTD</text>
<text x="119.70" y="188.20" font-size="11.5" text-anchor="start" fill="#111" font-weight="bold" stroke="#1c1c1c" stroke-width="0.12">F</text>
<line x1="146.70" y1="202.60" x2="146.70" y2="302.90" stroke="#1e1e1e" stroke-width="1.45" />
<line x1="143.70" y1="302.00" x2="146.70" y2="302.00" stroke="#1e1e1e" stroke-width="1.25" />
<text x="141.60" y="305.05" font-size="8.5" text-anchor="end" fill="#1c1c1c" font-weight="normal" stroke="#1c1c1c" stroke-width="0.15">0</text>
<line x1="143.70" y1="278.57" x2="146.70" y2="278.57" stroke="#1e1e1e" stroke-width="1.25" />
<text x="141.60" y="281.62" font-size="8.5" text-anchor="end" fill="#1c1c1c" font-weight="normal" stroke="#1c1c1c" stroke-width="0.15">10</text>
<line x1="143.70" y1="255.15" x2="146.70" y2="255.15" stroke="#1e1e1e" stroke-width="1.25" />
<text x="141.60" y="258.20" font-size="8.5" text-anchor="end" fill="#1c1c1c" font-weight="normal" stroke="#1c1c1c" stroke-width="0.15">20</text>
<line x1="143.70" y1="231.73" x2="146.70" y2="231.73" stroke="#1e1e1e" stroke-width="1.25" />
<text x="141.60" y="234.78" font-size="8.5" text-anchor="end" fill="#1c1c1c" font-weight="normal" stroke="#1c1c1c" stroke-width="0.15">30</text>
<line x1="143.70" y1="208.30" x2="146.70" y2="208.30" stroke="#1e1e1e" stroke-width="1.25" />
<text x="141.60" y="211.35" font-size="8.5" text-anchor="end" fill="#1c1c1c" font-weight="normal" stroke="#1c1c1c" stroke-width="0.15">40</text>
<line x1="145.10" y1="296.14" x2="146.70" y2="296.14" stroke="#1e1e1e" stroke-width="1.0" />
<line x1="145.10" y1="290.29" x2="146.70" y2="290.29" stroke="#1e1e1e" stroke-width="1.0" />
<line x1="145.10" y1="284.43" x2="146.70" y2="284.43" stroke="#1e1e1e" stroke-width="1.0" />
<line x1="145.10" y1="272.72" x2="146.70" y2="272.72" stroke="#1e1e1e" stroke-width="1.0" />
<line x1="145.10" y1="266.86" x2="146.70" y2="266.86" stroke="#1e1e1e" stroke-width="1.0" />
<line x1="145.10" y1="261.01" x2="146.70" y2="261.01" stroke="#1e1e1e" stroke-width="1.0" />
<line x1="145.10" y1="249.29" x2="146.70" y2="249.29" stroke="#1e1e1e" stroke-width="1.0" />
<line x1="145.10" y1="243.44" x2="146.70" y2="243.44" stroke="#1e1e1e" stroke-width="1.0" />
<line x1="145.10" y1="237.58" x2="146.70" y2="237.58" stroke="#1e1e1e" stroke-width="1.0" />
<line x1="145.10" y1="225.87" x2="146.70" y2="225.87" stroke="#1e1e1e" stroke-width="1.0" />
<line x1="145.10" y1="220.01" x2="146.70" y2="220.01" stroke="#1e1e1e" stroke-width="1.0" />
<line x1="145.10" y1="214.16" x2="146.70" y2="214.16" stroke="#1e1e1e" stroke-width="1.0" />
<line x1="146.00" y1="302.20" x2="211.70" y2="302.20" stroke="#1e1e1e" stroke-width="1.45" />
<line x1="164.50" y1="302.20" x2="164.50" y2="305.20" stroke="#1e1e1e" stroke-width="1.25" />
<line x1="192.20" y1="302.20" x2="192.20" y2="305.20" stroke="#1e1e1e" stroke-width="1.25" />
<text transform="translate(125.50,298.60) rotate(-90)" x="0" y="0" font-size="9.0" fill="#1c1c1c" stroke="#1c1c1c" stroke-width="0.4" textLength="88.7" lengthAdjust="spacingAndGlyphs">Normoxic occlusion index (%)</text>
<path d="M164.00,225.70 V212.80 H191.90 V218.20" fill="none" stroke="#5a5a5a" stroke-width="1.1"/>
<text x="176.80" y="211.54" font-size="8.0" font-weight="bold" text-anchor="middle" fill="#111">*</text>
<circle cx="165.10" cy="234.80" r="1.25" fill="#17427a"/>
<circle cx="165.10" cy="244.80" r="1.25" fill="#17427a"/>
<circle cx="165.30" cy="257.10" r="1.25" fill="#17427a"/>
<circle cx="163.00" cy="262.90" r="1.25" fill="#17427a"/>
<circle cx="164.80" cy="263.70" r="1.25" fill="#17427a"/>
<circle cx="163.00" cy="266.70" r="1.25" fill="#17427a"/>
<circle cx="164.80" cy="267.00" r="1.25" fill="#17427a"/>
<circle cx="169.00" cy="266.30" r="1.25" fill="#17427a"/>
<circle cx="163.00" cy="270.40" r="1.25" fill="#17427a"/>
<circle cx="165.10" cy="269.80" r="1.25" fill="#17427a"/>
<circle cx="168.60" cy="269.80" r="1.25" fill="#17427a"/>
<circle cx="165.10" cy="272.60" r="1.25" fill="#17427a"/>
<circle cx="166.90" cy="271.90" r="1.25" fill="#17427a"/>
<circle cx="165.10" cy="276.80" r="1.25" fill="#17427a"/>
<circle cx="167.20" cy="275.70" r="1.25" fill="#17427a"/>
<circle cx="164.10" cy="278.50" r="1.25" fill="#17427a"/>
<circle cx="159.60" cy="279.80" r="1.25" fill="#17427a"/>
<circle cx="166.90" cy="279.90" r="1.25" fill="#17427a"/>
<circle cx="164.80" cy="278.90" r="1.25" fill="#17427a"/>
<circle cx="157.50" cy="282.90" r="1.25" fill="#17427a"/>
<circle cx="161.70" cy="282.20" r="1.25" fill="#17427a"/>
<circle cx="163.70" cy="281.80" r="1.25" fill="#17427a"/>
<circle cx="172.80" cy="282.50" r="1.25" fill="#17427a"/>
<circle cx="161.30" cy="285.00" r="1.25" fill="#17427a"/>
<circle cx="163.40" cy="286.30" r="1.25" fill="#17427a"/>
<circle cx="165.10" cy="288.80" r="1.25" fill="#17427a"/>
<circle cx="168.60" cy="288.40" r="1.25" fill="#17427a"/>
<circle cx="163.40" cy="290.90" r="1.25" fill="#17427a"/>
<circle cx="166.50" cy="291.20" r="1.25" fill="#17427a"/>
<circle cx="170.70" cy="292.30" r="1.25" fill="#17427a"/>
<circle cx="159.20" cy="294.00" r="1.25" fill="#17427a"/>
<circle cx="165.50" cy="293.70" r="1.25" fill="#17427a"/>
<circle cx="163.00" cy="296.40" r="1.25" fill="#17427a"/>
<circle cx="167.20" cy="296.40" r="1.25" fill="#17427a"/>
<circle cx="168.60" cy="295.70" r="1.25" fill="#17427a"/>
<circle cx="166.90" cy="298.20" r="1.25" fill="#17427a"/>
<circle cx="163.00" cy="300.30" r="1.25" fill="#17427a"/>
<circle cx="170.60" cy="283.60" r="1.25" fill="#17427a"/>
<circle cx="168.20" cy="283.80" r="1.25" fill="#17427a"/>
<circle cx="161.20" cy="289.50" r="1.25" fill="#17427a"/>
<circle cx="160.80" cy="292.20" r="1.25" fill="#17427a"/>
<line x1="157.00" y1="283.90" x2="173.10" y2="283.90" stroke="#102a48" stroke-width="1.1" />
<circle cx="192.20" cy="230.10" r="1.25" fill="#b07024"/>
<circle cx="192.20" cy="234.10" r="1.25" fill="#b07024"/>
<circle cx="192.20" cy="238.00" r="1.25" fill="#b07024"/>
<circle cx="192.20" cy="241.40" r="1.25" fill="#b07024"/>
<circle cx="190.10" cy="247.50" r="1.25" fill="#b07024"/>
<circle cx="192.20" cy="248.70" r="1.25" fill="#b07024"/>
<circle cx="194.30" cy="248.60" r="1.25" fill="#b07024"/>
<circle cx="190.97" cy="253.15" r="1.3" fill="#b07024"/>
<circle cx="193.45" cy="252.79" r="1.3" fill="#b07024"/>
<circle cx="191.03" cy="255.24" r="1.3" fill="#b07024"/>
<circle cx="193.15" cy="254.85" r="1.3" fill="#b07024"/>
<circle cx="188.01" cy="257.10" r="1.3" fill="#b07024"/>
<circle cx="191.30" cy="256.96" r="1.3" fill="#b07024"/>
<circle cx="193.57" cy="256.68" r="1.3" fill="#b07024"/>
<circle cx="195.64" cy="257.09" r="1.3" fill="#b07024"/>
<circle cx="189.27" cy="258.89" r="1.3" fill="#b07024"/>
<circle cx="192.15" cy="259.03" r="1.3" fill="#b07024"/>
<circle cx="194.77" cy="258.71" r="1.3" fill="#b07024"/>
<circle cx="187.50" cy="261.58" r="1.3" fill="#b07024"/>
<circle cx="189.92" cy="261.21" r="1.3" fill="#b07024"/>
<circle cx="192.05" cy="260.69" r="1.3" fill="#b07024"/>
<circle cx="194.58" cy="260.43" r="1.3" fill="#b07024"/>
<circle cx="197.51" cy="260.56" r="1.3" fill="#b07024"/>
<circle cx="187.98" cy="262.73" r="1.3" fill="#b07024"/>
<circle cx="191.25" cy="263.15" r="1.3" fill="#b07024"/>
<circle cx="193.86" cy="263.31" r="1.3" fill="#b07024"/>
<circle cx="195.68" cy="263.70" r="1.3" fill="#b07024"/>
<circle cx="188.75" cy="265.97" r="1.3" fill="#b07024"/>
<circle cx="190.62" cy="265.46" r="1.3" fill="#b07024"/>
<circle cx="193.16" cy="265.21" r="1.3" fill="#b07024"/>
<circle cx="196.26" cy="265.20" r="1.3" fill="#b07024"/>
<circle cx="188.08" cy="267.70" r="1.3" fill="#b07024"/>
<circle cx="190.62" cy="267.67" r="1.3" fill="#b07024"/>
<circle cx="193.25" cy="267.69" r="1.3" fill="#b07024"/>
<circle cx="196.40" cy="268.26" r="1.3" fill="#b07024"/>
<circle cx="188.66" cy="270.03" r="1.3" fill="#b07024"/>
<circle cx="190.61" cy="270.25" r="1.3" fill="#b07024"/>
<circle cx="193.25" cy="269.60" r="1.3" fill="#b07024"/>
<circle cx="196.24" cy="269.59" r="1.3" fill="#b07024"/>
<circle cx="186.89" cy="271.82" r="1.3" fill="#b07024"/>
<circle cx="189.55" cy="271.75" r="1.3" fill="#b07024"/>
<circle cx="192.57" cy="271.83" r="1.3" fill="#b07024"/>
<circle cx="194.81" cy="272.19" r="1.3" fill="#b07024"/>
<circle cx="197.05" cy="271.67" r="1.3" fill="#b07024"/>
<circle cx="184.74" cy="275.18" r="1.3" fill="#b07024"/>
<circle cx="186.86" cy="275.00" r="1.3" fill="#b07024"/>
<circle cx="189.96" cy="274.53" r="1.3" fill="#b07024"/>
<circle cx="192.14" cy="273.94" r="1.3" fill="#b07024"/>
<circle cx="194.38" cy="274.44" r="1.3" fill="#b07024"/>
<circle cx="197.09" cy="274.04" r="1.3" fill="#b07024"/>
<circle cx="199.66" cy="273.94" r="1.3" fill="#b07024"/>
<circle cx="188.03" cy="276.05" r="1.3" fill="#b07024"/>
<circle cx="190.97" cy="276.68" r="1.3" fill="#b07024"/>
<circle cx="193.57" cy="276.36" r="1.3" fill="#b07024"/>
<circle cx="196.36" cy="276.43" r="1.3" fill="#b07024"/>
<circle cx="186.84" cy="278.74" r="1.3" fill="#b07024"/>
<circle cx="189.71" cy="278.28" r="1.3" fill="#b07024"/>
<circle cx="192.09" cy="278.62" r="1.3" fill="#b07024"/>
<circle cx="195.13" cy="278.16" r="1.3" fill="#b07024"/>
<circle cx="197.45" cy="277.84" r="1.3" fill="#b07024"/>
<circle cx="188.54" cy="280.22" r="1.3" fill="#b07024"/>
<circle cx="190.54" cy="280.21" r="1.3" fill="#b07024"/>
<circle cx="193.46" cy="280.53" r="1.3" fill="#b07024"/>
<circle cx="195.88" cy="281.00" r="1.3" fill="#b07024"/>
<circle cx="186.01" cy="281.65" r="1.3" fill="#b07024"/>
<circle cx="188.61" cy="282.06" r="1.3" fill="#b07024"/>
<circle cx="190.81" cy="282.13" r="1.3" fill="#b07024"/>
<circle cx="193.80" cy="282.52" r="1.3" fill="#b07024"/>
<circle cx="195.96" cy="282.70" r="1.3" fill="#b07024"/>
<circle cx="198.87" cy="282.77" r="1.3" fill="#b07024"/>
<circle cx="188.04" cy="284.34" r="1.3" fill="#b07024"/>
<circle cx="191.32" cy="284.60" r="1.3" fill="#b07024"/>
<circle cx="193.66" cy="284.27" r="1.3" fill="#b07024"/>
<circle cx="196.21" cy="284.50" r="1.3" fill="#b07024"/>
<circle cx="189.27" cy="286.37" r="1.3" fill="#b07024"/>
<circle cx="192.18" cy="286.23" r="1.3" fill="#b07024"/>
<circle cx="194.91" cy="286.59" r="1.3" fill="#b07024"/>
<circle cx="187.98" cy="288.73" r="1.3" fill="#b07024"/>
<circle cx="191.07" cy="288.50" r="1.3" fill="#b07024"/>
<circle cx="193.21" cy="288.92" r="1.3" fill="#b07024"/>
<circle cx="196.15" cy="288.40" r="1.3" fill="#b07024"/>
<circle cx="190.68" cy="290.96" r="1.3" fill="#b07024"/>
<circle cx="193.72" cy="291.45" r="1.3" fill="#b07024"/>
<circle cx="190.99" cy="293.35" r="1.3" fill="#b07024"/>
<circle cx="193.18" cy="293.43" r="1.3" fill="#b07024"/>
<line x1="183.30" y1="273.30" x2="201.20" y2="273.30" stroke="#3a2410" stroke-width="1.1" />
<text x="150.20" y="315.90" font-size="8.8" text-anchor="middle" fill="#1c1c1c" font-weight="normal" textLength="34.3" lengthAdjust="spacingAndGlyphs" stroke="#1c1c1c" stroke-width="0.12">&#8722; Chronic</text>
<text x="150.00" y="325.40" font-size="8.8" text-anchor="middle" fill="#1c1c1c" font-weight="normal" textLength="49.7" lengthAdjust="spacingAndGlyphs" stroke="#1c1c1c" stroke-width="0.12">Complications</text>
<text x="206.80" y="315.90" font-size="8.8" text-anchor="middle" fill="#1c1c1c" font-weight="normal" textLength="34.5" lengthAdjust="spacingAndGlyphs" stroke="#1c1c1c" stroke-width="0.12">+ Chronic</text>
<text x="206.80" y="325.40" font-size="8.8" text-anchor="middle" fill="#1c1c1c" font-weight="normal" textLength="50.1" lengthAdjust="spacingAndGlyphs" stroke="#1c1c1c" stroke-width="0.12">Complications</text>
<text x="247.20" y="188.30" font-size="11.5" text-anchor="start" fill="#111" font-weight="bold" stroke="#1c1c1c" stroke-width="0.12">G</text>
<line x1="278.50" y1="183.30" x2="278.50" y2="309.50" stroke="#1e1e1e" stroke-width="1.45" />
<line x1="275.30" y1="305.30" x2="278.50" y2="305.30" stroke="#1e1e1e" stroke-width="1.25" />
<text x="272.40" y="308.35" font-size="8.4" text-anchor="end" fill="#1c1c1c" font-weight="normal" stroke="#1c1c1c" stroke-width="0.12">0</text>
<line x1="276.80" y1="297.56" x2="278.50" y2="297.56" stroke="#1e1e1e" stroke-width="1.0" />
<line x1="276.80" y1="289.83" x2="278.50" y2="289.83" stroke="#1e1e1e" stroke-width="1.0" />
<line x1="276.80" y1="282.09" x2="278.50" y2="282.09" stroke="#1e1e1e" stroke-width="1.0" />
<line x1="276.80" y1="274.35" x2="278.50" y2="274.35" stroke="#1e1e1e" stroke-width="1.0" />
<line x1="275.30" y1="266.62" x2="278.50" y2="266.62" stroke="#1e1e1e" stroke-width="1.25" />
<text x="272.40" y="269.67" font-size="8.4" text-anchor="end" fill="#1c1c1c" font-weight="normal" stroke="#1c1c1c" stroke-width="0.12">5</text>
<line x1="276.80" y1="258.88" x2="278.50" y2="258.88" stroke="#1e1e1e" stroke-width="1.0" />
<line x1="276.80" y1="251.14" x2="278.50" y2="251.14" stroke="#1e1e1e" stroke-width="1.0" />
<line x1="276.80" y1="243.41" x2="278.50" y2="243.41" stroke="#1e1e1e" stroke-width="1.0" />
<line x1="276.80" y1="235.67" x2="278.50" y2="235.67" stroke="#1e1e1e" stroke-width="1.0" />
<line x1="275.30" y1="227.93" x2="278.50" y2="227.93" stroke="#1e1e1e" stroke-width="1.25" />
<text x="272.40" y="230.98" font-size="8.4" text-anchor="end" fill="#1c1c1c" font-weight="normal" stroke="#1c1c1c" stroke-width="0.12">10</text>
<line x1="276.80" y1="220.20" x2="278.50" y2="220.20" stroke="#1e1e1e" stroke-width="1.0" />
<line x1="276.80" y1="212.46" x2="278.50" y2="212.46" stroke="#1e1e1e" stroke-width="1.0" />
<line x1="276.80" y1="204.72" x2="278.50" y2="204.72" stroke="#1e1e1e" stroke-width="1.0" />
<line x1="276.80" y1="196.99" x2="278.50" y2="196.99" stroke="#1e1e1e" stroke-width="1.0" />
<line x1="275.30" y1="189.25" x2="278.50" y2="189.25" stroke="#1e1e1e" stroke-width="1.25" />
<text x="272.40" y="192.30" font-size="8.4" text-anchor="end" fill="#1c1c1c" font-weight="normal" stroke="#1c1c1c" stroke-width="0.12">15</text>
<line x1="277.80" y1="308.85" x2="510.60" y2="308.85" stroke="#1e1e1e" stroke-width="1.6" />
<line x1="281.90" y1="308.85" x2="281.90" y2="311.70" stroke="#1e1e1e" stroke-width="1.25" />
<text x="281.90" y="322.20" font-size="8.2" text-anchor="middle" fill="#1c1c1c" font-weight="normal" stroke="#1c1c1c" stroke-width="0.12">2</text>
<line x1="314.21" y1="308.85" x2="314.21" y2="311.70" stroke="#1e1e1e" stroke-width="1.25" />
<text x="314.21" y="322.20" font-size="8.2" text-anchor="middle" fill="#1c1c1c" font-weight="normal" stroke="#1c1c1c" stroke-width="0.12">6</text>
<line x1="346.53" y1="308.85" x2="346.53" y2="311.70" stroke="#1e1e1e" stroke-width="1.25" />
<text x="346.53" y="322.20" font-size="8.2" text-anchor="middle" fill="#1c1c1c" font-weight="normal" stroke="#1c1c1c" stroke-width="0.12">10</text>
<line x1="378.84" y1="308.85" x2="378.84" y2="311.70" stroke="#1e1e1e" stroke-width="1.25" />
<text x="378.84" y="322.20" font-size="8.2" text-anchor="middle" fill="#1c1c1c" font-weight="normal" stroke="#1c1c1c" stroke-width="0.12">14</text>
<line x1="411.16" y1="308.85" x2="411.16" y2="311.70" stroke="#1e1e1e" stroke-width="1.25" />
<text x="411.16" y="322.20" font-size="8.2" text-anchor="middle" fill="#1c1c1c" font-weight="normal" stroke="#1c1c1c" stroke-width="0.12">18</text>
<line x1="443.47" y1="308.85" x2="443.47" y2="311.70" stroke="#1e1e1e" stroke-width="1.25" />
<text x="443.47" y="322.20" font-size="8.2" text-anchor="middle" fill="#1c1c1c" font-weight="normal" stroke="#1c1c1c" stroke-width="0.12">22</text>
<line x1="475.79" y1="308.85" x2="475.79" y2="311.70" stroke="#1e1e1e" stroke-width="1.25" />
<text x="475.79" y="322.20" font-size="8.2" text-anchor="middle" fill="#1c1c1c" font-weight="normal" stroke="#1c1c1c" stroke-width="0.12">26</text>
<line x1="508.10" y1="308.85" x2="508.10" y2="311.70" stroke="#1e1e1e" stroke-width="1.25" />
<text x="508.10" y="322.20" font-size="8.2" text-anchor="middle" fill="#1c1c1c" font-weight="normal" stroke="#1c1c1c" stroke-width="0.12">30</text>
<text transform="translate(257.60,294.20) rotate(-90)" x="0" y="0" font-size="9.8" fill="#1c1c1c" stroke="#1c1c1c" stroke-width="0.4" textLength="97.6" lengthAdjust="spacingAndGlyphs">Acute complication rate per year</text>
<text x="394.80" y="335.40" font-size="9.8" text-anchor="middle" fill="#1c1c1c" font-weight="normal" textLength="75.0" lengthAdjust="spacingAndGlyphs" stroke="#1c1c1c" stroke-width="0.4">Normoxic occlusion index</text>
<line x1="281.90" y1="286.90" x2="281.90" y2="302.10" stroke="#6a7f9c" stroke-width="1.0" />
<line x1="281.00" y1="286.90" x2="282.80" y2="286.90" stroke="#6a7f9c" stroke-width="1.0" />
<line x1="281.00" y1="302.10" x2="282.80" y2="302.10" stroke="#6a7f9c" stroke-width="1.0" />
<line x1="314.21" y1="284.20" x2="314.21" y2="298.30" stroke="#6a7f9c" stroke-width="1.0" />
<line x1="313.31" y1="284.20" x2="315.11" y2="284.20" stroke="#6a7f9c" stroke-width="1.0" />
<line x1="313.31" y1="298.30" x2="315.11" y2="298.30" stroke="#6a7f9c" stroke-width="1.0" />
<line x1="346.53" y1="280.60" x2="346.53" y2="294.00" stroke="#6a7f9c" stroke-width="1.0" />
<line x1="345.63" y1="280.60" x2="347.43" y2="280.60" stroke="#6a7f9c" stroke-width="1.0" />
<line x1="345.63" y1="294.00" x2="347.43" y2="294.00" stroke="#6a7f9c" stroke-width="1.0" />
<line x1="378.84" y1="274.80" x2="378.84" y2="289.60" stroke="#6a7f9c" stroke-width="1.0" />
<line x1="377.94" y1="274.80" x2="379.74" y2="274.80" stroke="#6a7f9c" stroke-width="1.0" />
<line x1="377.94" y1="289.60" x2="379.74" y2="289.60" stroke="#6a7f9c" stroke-width="1.0" />
<line x1="411.16" y1="264.20" x2="411.16" y2="288.50" stroke="#6a7f9c" stroke-width="1.0" />
<line x1="410.26" y1="264.20" x2="412.06" y2="264.20" stroke="#6a7f9c" stroke-width="1.0" />
<line x1="410.26" y1="288.50" x2="412.06" y2="288.50" stroke="#6a7f9c" stroke-width="1.0" />
<line x1="443.47" y1="247.30" x2="443.47" y2="289.40" stroke="#6a7f9c" stroke-width="1.0" />
<line x1="442.57" y1="247.30" x2="444.37" y2="247.30" stroke="#6a7f9c" stroke-width="1.0" />
<line x1="442.57" y1="289.40" x2="444.37" y2="289.40" stroke="#6a7f9c" stroke-width="1.0" />
<line x1="475.79" y1="221.30" x2="475.79" y2="293.70" stroke="#6a7f9c" stroke-width="1.0" />
<line x1="474.89" y1="221.30" x2="476.69" y2="221.30" stroke="#6a7f9c" stroke-width="1.0" />
<line x1="474.89" y1="293.70" x2="476.69" y2="293.70" stroke="#6a7f9c" stroke-width="1.0" />
<line x1="508.10" y1="187.30" x2="508.10" y2="302.50" stroke="#6a7f9c" stroke-width="1.0" />
<line x1="507.20" y1="187.30" x2="509.00" y2="187.30" stroke="#6a7f9c" stroke-width="1.0" />
<line x1="507.20" y1="302.50" x2="509.00" y2="302.50" stroke="#6a7f9c" stroke-width="1.0" />
<polyline points="281.90,294.70 283.52,294.57 285.13,294.43 286.75,294.30 288.36,294.16 289.98,294.02 291.59,293.88 293.21,293.73 294.83,293.59 296.44,293.44 298.06,293.29 299.67,293.14 301.29,292.99 302.90,292.84 304.52,292.68 306.14,292.52 307.75,292.36 309.37,292.20 310.98,292.04 312.60,291.87 314.21,291.70 315.83,291.53 317.45,291.36 319.06,291.18 320.68,291.01 322.29,290.83 323.91,290.65 325.52,290.46 327.14,290.28 328.76,290.09 330.37,289.90 331.99,289.70 333.60,289.51 335.22,289.31 336.83,289.11 338.45,288.91 340.07,288.70 341.68,288.49 343.30,288.28 344.91,288.07 346.53,287.85 348.14,287.63 349.76,287.41 351.38,287.19 352.99,286.96 354.61,286.73 356.22,286.50 357.84,286.26 359.45,286.02 361.07,285.78 362.69,285.54 364.30,285.29 365.92,285.04 367.53,284.78 369.15,284.53 370.76,284.27 372.38,284.00 374.00,283.74 375.61,283.47 377.23,283.19 378.84,282.92 380.46,282.63 382.07,282.35 383.69,282.06 385.31,281.77 386.92,281.48 388.54,281.18 390.15,280.88 391.77,280.57 393.38,280.26 395.00,279.94 396.62,279.63 398.23,279.31 399.85,278.98 401.46,278.65 403.08,278.31 404.69,277.98 406.31,277.63 407.93,277.29 409.54,276.94 411.16,276.58 412.77,276.22 414.39,275.86 416.00,275.49 417.62,275.11 419.24,274.73 420.85,274.35 422.47,273.96 424.08,273.57 425.70,273.17 427.31,272.77 428.93,272.36 430.55,271.95 432.16,271.53 433.78,271.11 435.39,270.68 437.01,270.24 438.62,269.80 440.24,269.36 441.86,268.91 443.47,268.45 445.09,267.99 446.70,267.52 448.32,267.05 449.93,266.57 451.55,266.08 453.17,265.59 454.78,265.09 456.40,264.59 458.01,264.08 459.63,263.56 461.24,263.04 462.86,262.51 464.48,261.97 466.09,261.43 467.71,260.88 469.32,260.32 470.94,259.76 472.55,259.19 474.17,258.61 475.79,258.02 477.40,257.43 479.02,256.83 480.63,256.22 482.25,255.61 483.86,254.99 485.48,254.36 487.10,253.72 488.71,253.07 490.33,252.41 491.94,251.75 493.56,251.08 495.17,250.40 496.79,249.71 498.41,249.02 500.02,248.31 501.64,247.60 503.25,246.87 504.87,246.14 506.48,245.40 508.10,244.65" fill="none" stroke="#34557c" stroke-width="1.2"/>
<circle cx="281.90" cy="294.50" r="1.5" fill="#1a3558"/>
<circle cx="314.21" cy="291.20" r="1.5" fill="#1a3558"/>
<circle cx="346.53" cy="287.30" r="1.5" fill="#1a3558"/>
<circle cx="378.84" cy="282.30" r="1.5" fill="#1a3558"/>
<circle cx="411.16" cy="276.20" r="1.5" fill="#1a3558"/>
<circle cx="443.47" cy="268.10" r="1.5" fill="#1a3558"/>
<circle cx="475.79" cy="257.60" r="1.5" fill="#1a3558"/>
<circle cx="508.10" cy="243.80" r="1.5" fill="#1a3558"/>
</svg>
<div class="bd"></div>
</div>
</body></html>
